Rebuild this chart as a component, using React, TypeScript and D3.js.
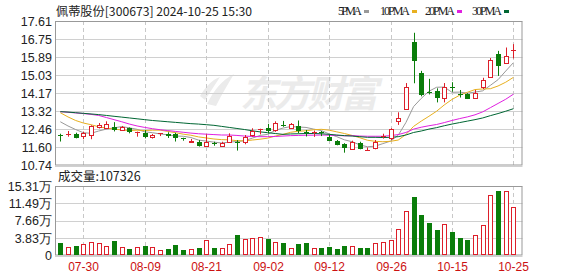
import React from "react";
import * as d3 from "d3";

const dates = ["07-25","07-26","07-29","07-30","07-31","08-01","08-02","08-05","08-06","08-07","08-08","08-09","08-12","08-13","08-14","08-15","08-16","08-19","08-20","08-21","08-22","08-23","08-26","08-27","08-28","08-29","08-30","09-02","09-03","09-04","09-05","09-06","09-09","09-10","09-11","09-12","09-13","09-18","09-19","09-20","09-23","09-24","09-25","09-26","09-27","09-30","10-08","10-09","10-10","10-11","10-14","10-15","10-16","10-17","10-18","10-21","10-22","10-23","10-24","10-25"];

const opens = [12.18,12.24,12.24,12.11,12.22,12.59,12.52,12.55,12.43,12.50,12.32,12.27,12.12,12.25,12.22,12.24,12.03,11.86,11.87,11.68,11.82,11.68,11.87,11.84,11.82,12.19,12.45,12.51,12.39,12.68,12.51,12.62,12.31,12.30,12.31,12.10,11.92,11.75,11.55,11.82,11.48,11.60,12.10,12.02,12.83,13.42,16.60,15.12,14.22,14.28,13.96,14.46,14.15,14.13,13.96,14.48,14.95,16.02,15.65,16.20];
const highs = [12.25,12.38,12.30,12.35,12.65,12.76,12.84,12.80,12.62,12.55,12.35,12.42,12.24,12.28,12.32,12.30,12.06,12.00,11.95,12.22,11.87,11.87,12.27,11.95,12.19,12.51,12.49,12.72,12.84,12.86,12.76,12.88,12.43,12.40,12.38,12.19,11.95,11.80,11.92,11.87,11.60,11.95,12.25,12.51,13.27,14.66,17.05,15.24,14.86,14.41,14.66,14.70,14.33,14.18,14.33,14.91,15.85,16.19,16.35,16.51];
const lows = [11.88,12.11,12.03,11.99,11.99,12.50,12.47,12.36,12.40,12.27,12.11,12.03,12.02,12.14,12.05,11.88,11.92,11.83,11.64,11.64,11.68,11.64,11.82,11.45,11.75,12.11,12.22,12.27,12.34,12.58,12.49,12.27,12.12,12.10,12.14,11.90,11.70,11.35,11.51,11.51,11.46,11.51,12.02,11.95,12.67,13.38,14.65,14.03,14.12,13.74,13.74,14.25,13.97,13.90,13.92,14.37,14.91,15.00,15.60,15.83];
const closes = [12.12,12.26,12.07,12.27,12.63,12.67,12.70,12.40,12.55,12.33,12.34,12.06,12.20,12.27,12.12,12.05,12.00,11.92,11.68,11.87,11.78,11.80,12.14,11.80,12.08,12.38,12.47,12.38,12.74,12.65,12.72,12.36,12.29,12.31,12.30,11.93,11.72,11.54,11.87,11.55,11.48,11.87,12.12,12.47,12.98,14.45,15.69,14.06,14.16,13.96,14.48,14.43,14.12,13.90,14.21,14.80,15.74,15.44,15.96,16.23];
const volumes = [26600,19200,20000,24400,30300,26600,20000,31000,17800,13300,17800,20000,17800,11100,13300,22200,11100,13300,16300,33300,16300,15500,25900,44400,35500,37700,39900,35500,28800,26600,15500,24400,26600,15500,15500,17800,13300,20000,20000,15500,15500,26600,28800,33300,57700,97600,128000,88800,71000,55500,68800,51000,37700,33300,45900,66600,133000,142000,142000,107326];

const ma5 = [12.82,12.62,12.45,12.30,12.27,12.38,12.47,12.53,12.59,12.53,12.46,12.34,12.30,12.24,12.20,12.14,12.13,12.07,11.95,11.90,11.85,11.81,11.85,11.88,11.92,12.04,12.17,12.22,12.41,12.52,12.59,12.57,12.55,12.47,12.40,12.24,12.11,11.96,11.87,11.72,11.63,11.66,11.78,11.90,12.18,12.78,13.54,13.93,14.27,14.46,14.47,14.22,14.23,14.18,14.23,14.29,14.55,14.82,15.23,15.63];
const ma10 = [13.25,13.05,12.88,12.76,12.68,12.58,12.52,12.47,12.43,12.40,12.42,12.40,12.42,12.42,12.36,12.30,12.23,12.18,12.10,12.05,12.00,11.97,11.96,11.92,11.91,11.95,11.99,12.04,12.14,12.22,12.32,12.37,12.39,12.44,12.46,12.42,12.34,12.26,12.17,12.06,11.94,11.89,11.87,11.89,11.95,12.21,12.60,12.85,13.08,13.32,13.62,13.88,14.08,14.22,14.35,14.38,14.39,14.52,14.70,14.93];
const ma20 = [13.30,13.27,13.24,13.21,13.17,13.12,13.02,12.92,12.82,12.71,12.62,12.55,12.49,12.44,12.40,12.36,12.32,12.28,12.25,12.23,12.21,12.19,12.19,12.17,12.14,12.12,12.11,12.11,12.12,12.14,12.16,12.17,12.18,12.18,12.19,12.18,12.17,12.15,12.16,12.14,12.13,12.13,12.13,12.16,12.21,12.31,12.47,12.56,12.63,12.69,12.78,12.88,12.97,13.05,13.15,13.29,13.49,13.69,13.89,14.13];
const ma30 = [13.30,13.28,13.25,13.22,13.19,13.16,13.12,13.08,13.04,13.00,12.96,12.92,12.88,12.85,12.82,12.79,12.76,12.73,12.71,12.68,12.65,12.60,12.55,12.50,12.45,12.39,12.34,12.30,12.26,12.22,12.24,12.25,12.26,12.26,12.25,12.22,12.19,12.16,12.14,12.11,12.08,12.08,12.07,12.08,12.11,12.19,12.31,12.38,12.47,12.54,12.63,12.71,12.78,12.85,12.92,13.00,13.11,13.21,13.32,13.44];

const priceTicks = [17.61,16.75,15.89,15.03,14.17,13.32,12.46,11.60,10.74];
const volTicks = [153100,114900,76600,38300,0];
const volTickLabels = ["15.31万","11.49万","7.66万","3.83万","0"];
const labelDates = ["07-30","08-09","08-21","09-02","09-12","09-26","10-15","10-25"];

const legendNames = ["5PMA","10PMA","20PMA","30PMA"];
const maColors = ["#999999","#e8b020","#e020e0","#006633"];

const RED = "#dd1f2a";
const GREEN = "#0a7d0a";

export default function App() {
  const W = 578, H = 276;
  const left = 55, right = 522.5;
  const pTop = 21, pBot = 165.5;
  const vTop = 186, vBot = 255.5;

  const x = d3.scaleLinear().domain([0, dates.length - 1]).range([60.3, 513.4]);
  const y = d3.scaleLinear().domain([10.74, 17.61]).range([pBot, pTop]);
  const yv = d3.scaleLinear().domain([0, 153100]).range([vBot, vTop]);

  const mas = [ma5, ma10, ma20, ma30];
  const line = (arr: number[]) =>
    d3.line<number>().x((_, i) => x(i)).y((d) => y(d))(arr) || "";

  const font = "Arial, 'Liberation Sans', sans-serif";
  const cjk = "'Noto Sans CJK SC', sans-serif";

  const gridXs = labelDates.map((d) => Math.round(x(dates.indexOf(d))) + 0.5);

  return (
    <svg width={W} height={H} style={{ display: "block", position: "absolute", left: 0, top: 0 }}>
      <rect x={0} y={0} width={W} height={H} fill="#fff" />
      {/* watermark */}
      <g fill="#ebebeb" opacity={1}>
        <path d="M207 104 C214 90 222 80 234 74 C228 84 222 94 216 106 Z" />
        <path d="M200 96 C206 86 212 80 220 77 C215 85 210 92 205 100 Z" />
        <text x={240} y={107} fontFamily={cjk} fontSize={37} fontWeight={700} fontStyle="italic" textLength={138}>东方财富</text>
      </g>

      {/* price grid */}
      {priceTicks.map((t, i) => (
        <line key={"pg" + i} x1={left} x2={right} y1={Math.round(y(t)) + 0.5} y2={Math.round(y(t)) + 0.5} stroke="#d0d0d0" />
      ))}
      {gridXs.map((gx, i) => (
        <line key={"pv" + i} x1={gx} x2={gx} y1={pTop} y2={pBot} stroke="#c8c8c8" strokeDasharray="4,3" />
      ))}
      {/* volume grid */}
      {volTicks.map((t, i) => (
        <line key={"vg" + i} x1={left} x2={right} y1={Math.round(yv(t)) + 0.5} y2={Math.round(yv(t)) + 0.5} stroke="#d0d0d0" />
      ))}
      {gridXs.map((gx, i) => (
        <line key={"vv" + i} x1={gx} x2={gx} y1={vTop} y2={vBot} stroke="#c8c8c8" strokeDasharray="4,3" />
      ))}

      {/* frames */}
      <rect x={left + 0.5} y={pTop + 0.5} width={right - left - 1} height={pBot - pTop - 1} fill="none" stroke="#999" />
      <rect x={left + 0.5} y={vTop + 0.5} width={right - left - 1} height={vBot - vTop - 1} fill="none" stroke="#999" />

      {/* MA lines */}
      {mas.map((m, k) => (
        <path key={"ma" + k} d={line(m)} fill="none" stroke={maColors[k]} strokeWidth={1} />
      ))}

      {/* candles */}
      {closes.map((c, i) => {
        const o = opens[i];
        const up = c >= o;
        const col = up ? RED : GREEN;
        const px = Math.round(x(i));
        const yo = y(o), yc = y(c);
        const top = Math.min(yo, yc), bot = Math.max(yo, yc);
        const h = bot - top;
        return (
          <g key={"c" + i}>
            <line x1={px + 0.5} x2={px + 0.5} y1={y(highs[i])} y2={y(lows[i])} stroke={col} />
            {h < 1.2 ? (
              <line x1={px - 2} x2={px + 3} y1={Math.round(top) + 0.5} y2={Math.round(top) + 0.5} stroke={col} />
            ) : up ? (
              <rect x={px - 1.5} y={Math.round(top) + 0.5} width={4} height={Math.max(1, Math.round(h))} fill="#fff" stroke={col} />
            ) : (
              <rect x={px - 2} y={Math.round(top)} width={5} height={Math.max(1, Math.round(h))} fill={col} />
            )}
          </g>
        );
      })}

      {/* volume bars */}
      {volumes.map((v, i) => {
        const o = opens[i], c = closes[i];
        const up = c > o || (c === o && (i === 0 || c >= closes[i - 1]));
        const px = Math.round(x(i));
        const t = Math.round(yv(v));
        const b = Math.round(vBot) - 1;
        return up ? (
          <rect key={"v" + i} x={px - 1.5} y={t + 0.5} width={4} height={Math.max(0, b - t - 1)} fill="#fff" stroke={RED} />
        ) : (
          <rect key={"v" + i} x={px - 2} y={t} width={5} height={b - t} fill={GREEN} />
        );
      })}

      {/* price axis labels */}
      {priceTicks.map((t, i) => (
        <text key={"pl" + i} x={52} y={y(t)} dy="0.36em" textAnchor="end" fontFamily={font} fontSize={12.5} fill="#222">
          {t.toFixed(2)}
        </text>
      ))}
      {volTicks.map((t, i) => (
        <text key={"vl" + i} x={52} y={yv(t)} dy="0.36em" textAnchor="end" fontFamily={font} fontSize={12.5} fill="#222">
          {volTickLabels[i]}
        </text>
      ))}
      {/* date labels */}
      {labelDates.map((d, i) => (
        <text key={"dl" + i} x={gridXs[i]} y={271} textAnchor="middle" fontFamily={font} fontSize={12} fill="#cc1111">
          {d}
        </text>
      ))}

      {/* title */}
      <text x={56} y={16} fontFamily={cjk} fontSize={12.2} fill="#222">佩蒂股份[300673] 2024-10-25 15:30</text>
      {/* legend */}
      {legendNames.map((n, i) => {
        const lx = [338, 380, 425, 472][i];
        const tw = n.length === 4 ? 24 : 30;
        return (
          <g key={"lg" + i}>
            <text x={lx} y={15} fontFamily="'Liberation Serif', serif" fontSize={12} fill="#222" textLength={tw}>{n}</text>
            <rect x={lx + tw + 2} y={10} width={5} height={3} fill={maColors[i]} />
          </g>
        );
      })}
      <text x={58} y={181} fontFamily={cjk} fontSize={12.5} fill="#222">成交量:107326</text>
    </svg>
  );
}
